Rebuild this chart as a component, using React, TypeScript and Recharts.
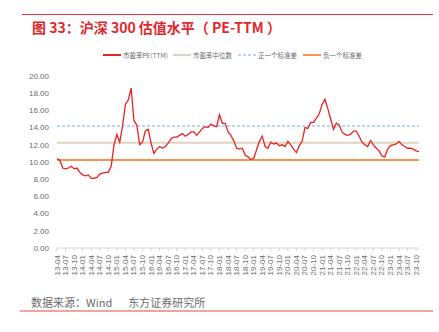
import { LineChart, Line, XAxis, YAxis } from 'recharts';

// monthly PE-TTM readings, starting 2013-04
const startYear = 2013;
const startMonth = 4;
const peTTM = [
  10.4, 10.2, 9.3, 9.2, 9.3, 9.5, 9.2, 9.3, 8.8,
  8.5, 8.4, 8.5, 8.1, 8.1, 8.2, 8.6, 8.7, 8.8, 8.8, 9.5, 12.0,
  13.2, 12.3, 14.2, 16.7, 17.2, 18.6, 14.8, 14.3, 12.0, 12.3, 13.6, 13.8,
  12.2, 11.0, 11.5, 11.8, 11.6, 11.8, 12.2, 12.7, 12.9, 12.9, 13.1, 13.3,
  13.0, 13.2, 13.5, 13.5, 13.1, 13.5, 13.9, 14.1, 14.0, 14.4, 14.2, 14.1,
  15.5, 14.5, 14.5, 13.5, 13.1, 12.5, 11.6, 11.5, 11.6, 10.8, 10.6, 10.3,
  10.4, 11.4, 12.4, 13.0, 11.8, 11.6, 12.3, 12.1, 12.2, 11.9, 12.0, 11.8,
  12.4, 12.0, 11.5, 11.1, 11.9, 12.4, 14.0, 13.9, 14.6, 14.6, 15.1, 15.6,
  16.7, 17.3, 16.2, 15.0, 13.8, 14.5, 14.3, 13.5, 13.2, 13.1, 13.2, 13.6,
  13.6, 13.0, 12.3, 12.0, 11.8, 12.5, 12.0, 11.6, 11.3, 10.7, 10.6, 11.5,
  11.9, 12.0, 12.1, 12.4, 12.0, 11.8, 11.6, 11.6, 11.5, 11.3, 11.2,
];
const medianPE = 12.24;
const plusOneStd = 14.19;
const minusOneStd = 10.23;
const yTicks = [0, 2, 4, 6, 8, 10, 12, 14, 16, 18, 20];

const data = peTTM.map((v, i) => {
  const m = startMonth - 1 + i;
  const yy = startYear + Math.floor(m / 12);
  const mm = (m % 12) + 1;
  return {
    i,
    date: `${String(yy).slice(2)}-${String(mm).padStart(2, '0')}`,
    pe: v,
    median: medianPE,
    plus: plusOneStd,
    minus: minusOneStd,
  };
});
const xTicks = data.filter((d) => d.i % 3 === 0).map((d) => d.i);

const COLORS = {
  pe: '#e8231f',
  median: '#ddd4c0',
  plus: '#a3c6f5',
  minus: '#f99450',
};

const narrow = '"Liberation Sans Narrow", "Liberation Sans", Arial, sans-serif';
const cjk = '"Noto Sans CJK SC", "Noto Sans", sans-serif';

const DateTick = ({ x, y, payload }: any) => {
  const label = data[payload.value]?.date ?? '';
  return (
    <text
      x={x}
      y={y + 2}
      transform={`rotate(-90, ${x}, ${y + 2})`}
      textAnchor="end"
      dominantBaseline="central"
      fontSize={8}
      fontFamily={narrow}
      fill="#6b6b6b"
    >
      {label}
    </text>
  );
};

const legendItems = [
  { name: '市盈率PE(TTM)', color: COLORS.pe, dash: undefined, left: 103, w: 2 },
  { name: '市盈率中位数', color: COLORS.median, dash: undefined, left: 173, w: 2 },
  { name: '正一个标准差', color: COLORS.plus, dash: '3 2', left: 238, w: 1.5 },
  { name: '负一个标准差', color: COLORS.minus, dash: undefined, left: 303, w: 2 },
];

export default function App() {
  return (
    <div
      style={{
        position: 'absolute',
        left: 0,
        top: 0,
        width: 439,
        height: 332,
        background: '#fff',
        overflow: 'hidden',
      }}
    >
      {/* top rule and title */}
      <div style={{ position: 'absolute', left: 22, top: 14, width: 411, height: 1, background: '#e0393b' }} />
      <div
        style={{
          position: 'absolute',
          left: 32,
          top: 18,
          fontFamily: cjk,
          fontWeight: 700,
          fontSize: 14,
          lineHeight: '18px',
          color: '#e0282c',
          whiteSpace: 'nowrap',
        }}
      >
        图 33：沪深 300 估值水平（ PE-TTM ）
      </div>

      {/* legend */}
      {legendItems.map((it) => (
        <div
          key={it.name}
          style={{ position: 'absolute', left: it.left, top: 50, height: 10, display: 'flex', alignItems: 'center' }}
        >
          <svg width={19} height={10}>
            <line x1={0} x2={18} y1={5} y2={5} stroke={it.color} strokeWidth={it.w} strokeDasharray={it.dash} />
          </svg>
          <span style={{ fontFamily: cjk, fontSize: 6.5, color: '#6b6b6b', marginLeft: 1, whiteSpace: 'nowrap' }}>
            {it.name}
          </span>
        </div>
      ))}

      <div style={{ position: 'absolute', left: 0, top: 0 }}>
        <LineChart width={439} height={332} data={data} margin={{ top: 76, right: 20, bottom: 54, left: 0 }}>
          <XAxis
            dataKey="i"
            type="number"
            domain={[0, 127]}
            ticks={xTicks}
            interval={0}
            height={30}
            stroke="#d4d4d4"
            tickSize={3}
            tick={<DateTick />}
          />
          <YAxis
            domain={[0, 20]}
            ticks={yTicks}
            width={57}
            axisLine={false}
            tickLine={false}
            tickFormatter={(v: number) => v.toFixed(2)}
            tick={{ fontSize: 8, fontFamily: narrow, fill: '#6b6b6b' }}
          />
          <Line dataKey="median" stroke={COLORS.median} strokeWidth={2} dot={false} isAnimationActive={false} />
          <Line
            dataKey="plus"
            stroke={COLORS.plus}
            strokeWidth={1.5}
            strokeDasharray="3 2"
            dot={false}
            isAnimationActive={false}
          />
          <Line dataKey="minus" stroke={COLORS.minus} strokeWidth={2} dot={false} isAnimationActive={false} />
          <Line
            dataKey="pe"
            type="linear"
            stroke={COLORS.pe}
            strokeWidth={1.3}
            dot={false}
            isAnimationActive={false}
          />
        </LineChart>
      </div>

      {/* source and bottom rule */}
      <div
        style={{
          position: 'absolute',
          left: 31,
          top: 295,
          fontFamily: cjk,
          fontSize: 11,
          lineHeight: '14px',
          color: '#6b6b6b',
          whiteSpace: 'nowrap',
        }}
      >
        数据来源：Wind<span style={{ display: 'inline-block', width: 16 }} />东方证券研究所
      </div>
      <div style={{ position: 'absolute', left: 20, top: 310, width: 413, height: 2, background: '#f2a39d' }} />
    </div>
  );
}
